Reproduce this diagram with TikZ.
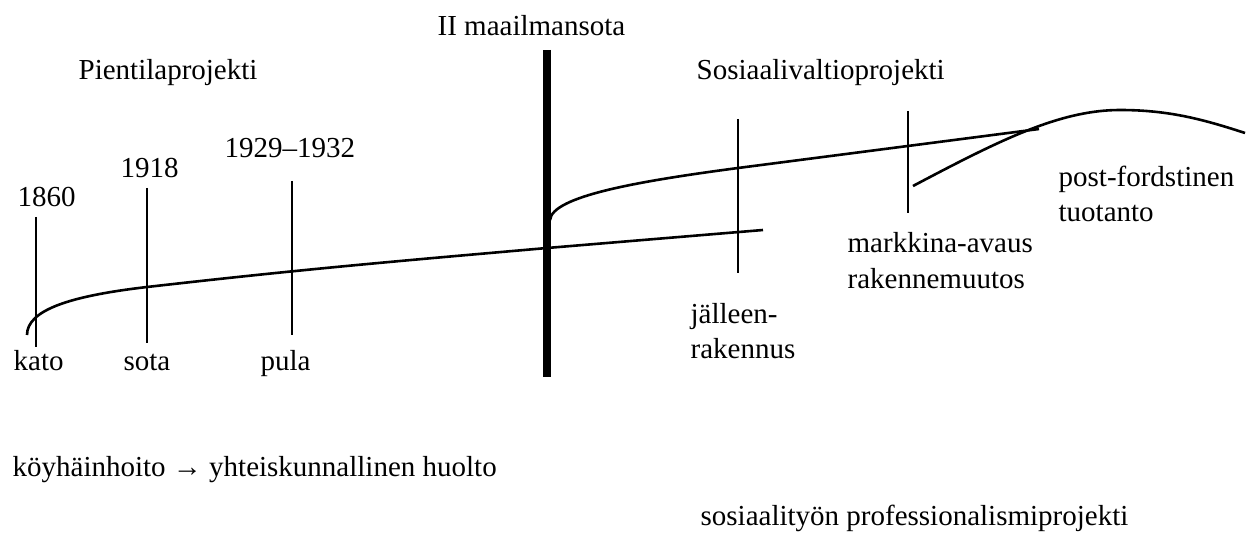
\documentclass[tikz,border=0pt]{standalone}
\usepackage{fontspec}
\setmainfont{Liberation Serif}
\usetikzlibrary{positioning}
\tikzset{
  every picture/.style={line width=0.65pt},
  lbl/.style={font=\fontsize{14.5}{17.5}\selectfont, inner sep=0pt, anchor=base west, align=left},
  vline/.style={line width=0.65pt},
  trend/.style={line width=1.3pt},
  war/.style={line width=3.6pt},
}

\begin{document}
\begin{tikzpicture}[x=0.5pt, y=-0.5pt]
  \useasboundingbox (0,0) rectangle (1247,534);
  % titles
  \node[lbl] (ww) at (437,36) {II maailmansota};
  \node[lbl] (pien) at (78,80) {Pientilaprojekti};
  \node[lbl] (sosv) at (696,80) {Sosiaalivaltioprojekti};
  % years and events
  \node[lbl] (y1860) at (17,207) {1860};
  \node[lbl] (y1918) at (120,178) {1918};
  \node[lbl] (y1929) at (224,158) {1929--1932};
  \node[lbl] (kato) at (13,370) {kato};
  \node[lbl] (sota) at (123,370) {sota};
  \node[lbl] (pula) at (260,370) {pula};
  % base of a two-line label = last line
  \node[lbl] (jall) at (690,358) {jälleen-\\rakennus};
  \node[lbl] (mark) at (847,288) {markkina-avaus\\rakennemuutos};
  \node[lbl] (post) at (1058,222) {post-fordstinen\\tuotanto};
  \node[lbl] (koyh) at (12,476) {köyhäinhoito → yhteiskunnallinen huolto};
  \node[lbl] (prof) at (700,525) {sosiaalityön professionalismiprojekti};
  % marker lines
  \draw[vline] (36,217) -- (36,347);
  \draw[vline] (147,188) -- (147,343);
  \draw[vline] (292,181) -- (292,335);
  \draw[vline] (738,119) -- (738,273);
  \draw[vline] (908,111) -- (908,213);
  \draw[war] (547,50) -- (547,377);
  % development lines
  \draw[trend] (27,335) .. controls (27,310) and (70,296) .. (147,287)
    to[out=6.5, in=185] (547,248) -- (763,230);
  \draw[trend] (550,220) .. controls (552,196) and (640,181) .. (738,168) -- (1039,129);
  \draw[trend] (913,186) .. controls (1000,140) and (1060,110) .. (1120,110)
    .. controls (1170,110) and (1205,120) .. (1245,133);
\end{tikzpicture}
\end{document}
